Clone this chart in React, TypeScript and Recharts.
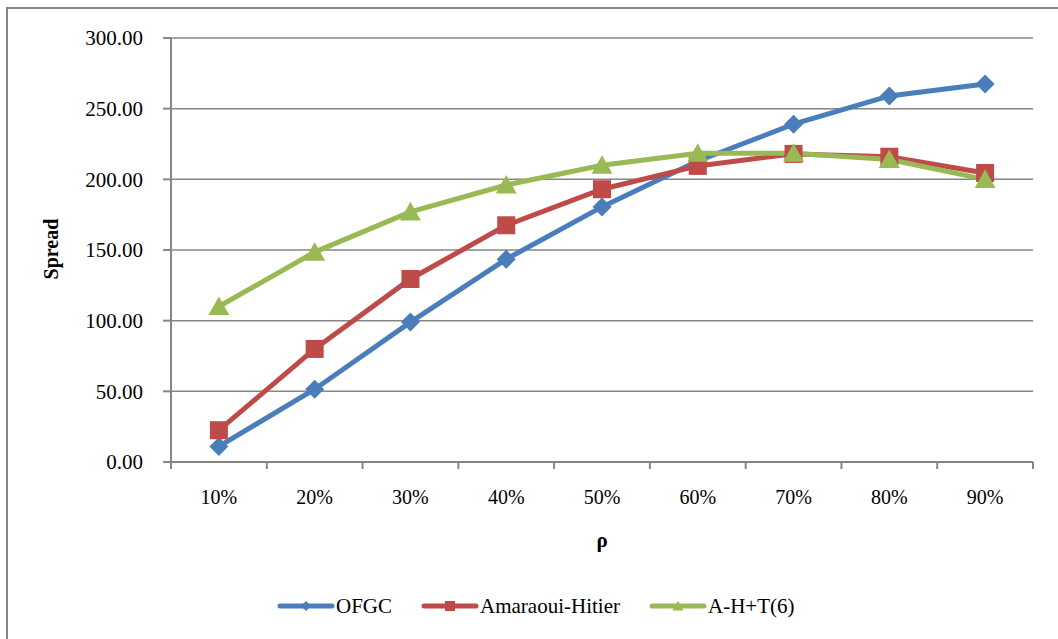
import { LineChart, Line, XAxis, YAxis, CartesianGrid } from 'recharts';

const categories = ['10%', '20%', '30%', '40%', '50%', '60%', '70%', '80%', '90%'];
const ofgc = [11, 51.5, 99, 143.5, 180.5, 213, 239, 259, 267.5];
const amaraouiHitier = [22.5, 80, 129.5, 167.5, 193, 209.5, 218, 216, 204.5];
const ahT6 = [110, 148.5, 177, 196, 210, 218.5, 218.5, 214, 200];
const yTicks = [0, 50, 100, 150, 200, 250, 300];

const BLUE = '#4A7EBB';
const RED = '#BE4B48';
const GREEN = '#98B954';
const AXIS = '#868686';
const FONT = "'Liberation Serif', 'Times New Roman', serif";

const data = categories.map((rho, i) => ({
  rho,
  ofgc: ofgc[i],
  ah: amaraouiHitier[i],
  aht: ahT6[i],
}));

type Shape = 'diamond' | 'square' | 'triangle';

function Marker({ cx, cy, shape, color, s }: { cx: number; cy: number; shape: Shape; color: string; s: number }) {
  if (shape === 'diamond') {
    return <polygon points={`${cx},${cy - s} ${cx + s},${cy} ${cx},${cy + s} ${cx - s},${cy}`} fill={color} />;
  }
  if (shape === 'square') {
    return <rect x={cx - s} y={cy - s} width={s * 2} height={s * 2} fill={color} />;
  }
  return <polygon points={`${cx},${cy - s * 1.05} ${cx + s * 1.1},${cy + s * 0.9} ${cx - s * 1.1},${cy + s * 0.9}`} fill={color} />;
}

const dotFor = (shape: Shape, color: string, s: number) => (p: any) => (
  <Marker key={`${shape}-${p.index}`} cx={p.cx} cy={p.cy} shape={shape} color={color} s={s} />
);

const BAND = (1033 - 171) / 9;

function XTick(props: any) {
  const { x, y, payload, index } = props;
  const half = BAND / 2;
  return (
    <g>
      <line x1={x - half} x2={x - half} y1={y} y2={y + 7} stroke={AXIS} strokeWidth={2} />
      {index === categories.length - 1 && (
        <line x1={x + half} x2={x + half} y1={y} y2={y + 7} stroke={AXIS} strokeWidth={2} />
      )}
      <text x={x} y={y + 42} textAnchor="middle" fontSize={20} fontFamily={FONT} fill="#000">
        {payload.value}
      </text>
    </g>
  );
}

const legendItems: { name: string; color: string; shape: Shape }[] = [
  { name: 'OFGC', color: BLUE, shape: 'diamond' },
  { name: 'Amaraoui-Hitier', color: RED, shape: 'square' },
  { name: 'A-H+T(6)', color: GREEN, shape: 'triangle' },
];

function ChartLegend() {
  return (
    <div
      style={{
        position: 'absolute',
        left: 277,
        top: 594,
        display: 'flex',
        alignItems: 'center',
        fontFamily: FONT,
        fontSize: 21,
        color: '#000',
        lineHeight: '24px',
      }}
    >
      {legendItems.map((it) => (
        <div key={it.name} style={{ display: 'flex', alignItems: 'center', marginRight: 29 }}>
          <svg width={58} height={24} style={{ marginRight: 1 }}>
            <line x1={3} x2={55} y1={12} y2={12} stroke={it.color} strokeWidth={5} strokeLinecap="round" />
            <Marker cx={29} cy={12} shape={it.shape} color={it.color} s={5} />
          </svg>
          <span>{it.name}</span>
        </div>
      ))}
    </div>
  );
}

export default function App() {
  return (
    <div style={{ position: 'absolute', left: 0, top: 0, width: 1058, height: 639, overflow: 'hidden', background: '#fff' }}>
      <div
        style={{
          position: 'absolute',
          left: 6,
          top: 7,
          width: 1100,
          height: 700,
          border: `2px solid ${AXIS}`,
          boxSizing: 'border-box',
        }}
      />
      <div style={{ position: 'absolute', left: 0, top: 0 }}>
        <LineChart width={1058} height={639} data={data} margin={{ top: 38, right: 25, bottom: 67, left: 46 }}>
          <CartesianGrid vertical={false} stroke={AXIS} strokeWidth={1.5} />
          <XAxis
            dataKey="rho"
            scale="point"
            padding={{ left: BAND / 2, right: BAND / 2 }}
            height={110}
            tickSize={0}
            tickMargin={0}
            tick={<XTick />}
            axisLine={{ stroke: AXIS, strokeWidth: 2 }}
            interval={0}
            label={{
              content: (p: any) => {
                const vb = p.viewBox;
                return (
                  <text x={vb.x + vb.width / 2} y={vb.y + 85} textAnchor="middle" fontSize={21} fontWeight="bold" fontFamily={FONT}>
                    ρ
                  </text>
                );
              },
            }}
          />
          <YAxis
            domain={[0, 300]}
            ticks={yTicks}
            width={125}
            tickFormatter={(v: number) => v.toFixed(2)}
            tick={{ fontSize: 21, fontFamily: FONT, fill: '#000' }}
            tickSize={8}
            tickMargin={20}
            tickLine={{ stroke: AXIS, strokeWidth: 2 }}
            axisLine={{ stroke: AXIS, strokeWidth: 2 }}
            label={{
              content: (p: any) => {
                const vb = p.viewBox;
                const x = vb.x + 12;
                const y = vb.y + vb.height / 2 - 1;
                return (
                  <text x={x} y={y} transform={`rotate(-90 ${x} ${y})`} textAnchor="middle" fontSize={20} fontWeight="bold" fontFamily={FONT}>
                    Spread
                  </text>
                );
              },
            }}
          />
          <Line dataKey="ofgc" name="OFGC" stroke={BLUE} strokeWidth={5} dot={dotFor('diamond', BLUE, 9.5)} activeDot={false} isAnimationActive={false} />
          <Line dataKey="ah" name="Amaraoui-Hitier" stroke={RED} strokeWidth={5} dot={dotFor('square', RED, 9)} activeDot={false} isAnimationActive={false} />
          <Line dataKey="aht" name="A-H+T(6)" stroke={GREEN} strokeWidth={5} dot={dotFor('triangle', GREEN, 9.5)} activeDot={false} isAnimationActive={false} />
        </LineChart>
      </div>
      <ChartLegend />
    </div>
  );
}
